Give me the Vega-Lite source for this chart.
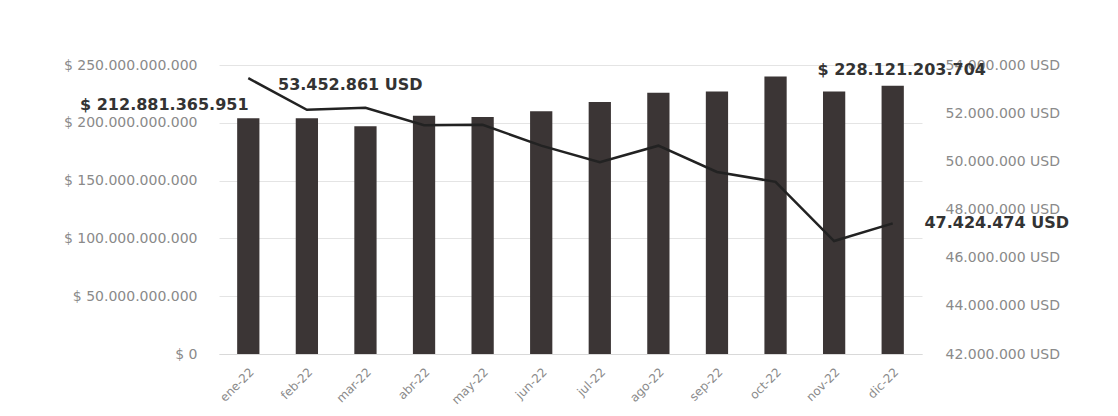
{
  "$schema": "https://vega.github.io/schema/vega-lite/v6.json",
  "autosize": "none",
  "width": 703,
  "height": 289,
  "padding": {"left": 219, "top": 65, "right": 196, "bottom": 62},
  "background": "white",
  "config": {
    "locale": {"number": {"decimal": ",", "thousands": ".", "grouping": [3], "currency": ["$ ", ""]}},
    "view": {"stroke": null},
    "font": "DejaVu Sans",
    "axis": {"labelFont": "DejaVu Sans", "labelColor": "#8a8a8a", "domain": false, "ticks": false, "title": null}
  },
  "data": {
    "values": [
      {"mes": "ene-22", "ventas": 204000000000, "usd": 53452861, "lblv": "$ 212.881.365.951", "lblu": "53.452.861 USD"},
      {"mes": "feb-22", "ventas": 204000000000, "usd": 52140000},
      {"mes": "mar-22", "ventas": 197000000000, "usd": 52220000},
      {"mes": "abr-22", "ventas": 206000000000, "usd": 51500000},
      {"mes": "may-22", "ventas": 205000000000, "usd": 51520000},
      {"mes": "jun-22", "ventas": 210000000000, "usd": 50650000},
      {"mes": "jul-22", "ventas": 218000000000, "usd": 49960000},
      {"mes": "ago-22", "ventas": 226000000000, "usd": 50650000},
      {"mes": "sep-22", "ventas": 227000000000, "usd": 49560000},
      {"mes": "oct-22", "ventas": 240000000000, "usd": 49150000},
      {"mes": "nov-22", "ventas": 227000000000, "usd": 46690000},
      {"mes": "dic-22", "ventas": 232000000000, "usd": 47424474, "lblv": "$ 228.121.203.704", "lblu": "47.424.474 USD"}
    ]
  },
  "encoding": {
    "x": {
      "field": "mes", "type": "nominal", "sort": null,
      "scale": {"paddingInner": 0.62, "paddingOuter": 0.31},
      "axis": {"labelAngle": -45, "labelFontSize": 12, "labelPadding": 12, "domain": true, "domainColor": "#d9d9d9", "grid": false}
    }
  },
  "layer": [
    {
      "encoding": {
        "y": {
          "field": "ventas", "type": "quantitative",
          "scale": {"domain": [0, 250000000000], "nice": false},
          "axis": {"orient": "left", "values": [0, 50000000000, 100000000000, 150000000000, 200000000000, 250000000000],
                   "labelExpr": "'$ ' + format(datum.value, ',d')", "labelFontSize": 14, "labelPadding": 22,
                   "grid": true, "gridColor": "#e4e4e4", "gridWidth": 1}
        }
      },
      "layer": [
        {"mark": {"type": "bar", "color": "#3b3535"}},
        {
          "transform": [{"filter": "datum.mes == 'ene-22'"}],
          "mark": {"type": "text", "fontSize": 16, "fontWeight": "bold", "color": "#333333", "dx": -84, "dy": -13},
          "encoding": {"text": {"field": "lblv"}}
        },
        {
          "transform": [{"filter": "datum.mes == 'dic-22'"}],
          "mark": {"type": "text", "fontSize": 16, "fontWeight": "bold", "color": "#333333", "dx": 9, "dy": -16},
          "encoding": {"text": {"field": "lblv"}}
        }
      ]
    },
    {
      "encoding": {
        "y": {
          "field": "usd", "type": "quantitative",
          "scale": {"domain": [42000000, 54000000], "nice": false, "zero": false},
          "axis": {"orient": "right", "values": [42000000, 44000000, 46000000, 48000000, 50000000, 52000000, 54000000],
                   "labelExpr": "format(datum.value, ',d') + ' USD'", "labelFontSize": 14, "labelPadding": 23, "grid": false}
        }
      },
      "layer": [
        {"mark": {"type": "line", "color": "#222222", "strokeWidth": 2.5}},
        {
          "transform": [{"filter": "datum.mes == 'ene-22'"}],
          "mark": {"type": "text", "fontSize": 16, "fontWeight": "bold", "color": "#333333", "dx": 102, "dy": 7},
          "encoding": {"text": {"field": "lblu"}}
        },
        {
          "transform": [{"filter": "datum.mes == 'dic-22'"}],
          "mark": {"type": "text", "fontSize": 16, "fontWeight": "bold", "color": "#333333", "dx": 104, "dy": 0},
          "encoding": {"text": {"field": "lblu"}}
        }
      ]
    }
  ],
  "resolve": {"scale": {"y": "independent"}}
}
